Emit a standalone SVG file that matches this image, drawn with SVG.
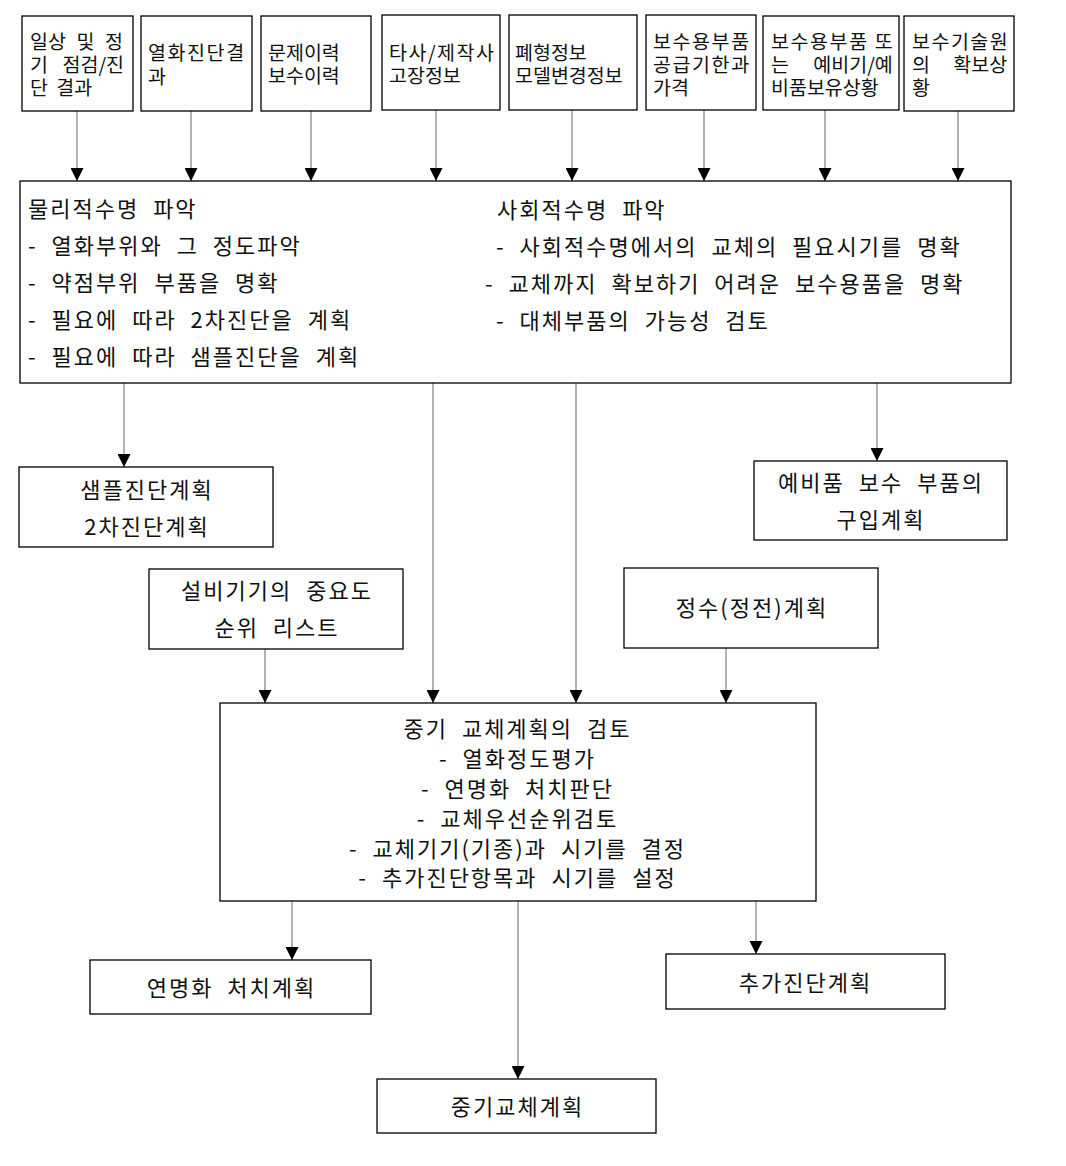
<svg xmlns="http://www.w3.org/2000/svg" width="1066" height="1166" viewBox="0 0 1066 1166">
<style>
  .box { fill: #fff; stroke: #000; stroke-width: 1.3; }
  .sm { font-family: "Noto Sans CJK KR", "Noto Sans", sans-serif; font-size: 19.5px; fill: #111; }
  .lg { font-family: "Noto Sans CJK KR", "Noto Sans", sans-serif; font-size: 22px; fill: #111; letter-spacing: 2px; word-spacing: 7px; }
  .c { text-anchor: middle; }
  .conn line { stroke: #808080; stroke-width: 1.2; marker-end: url(#arr); }
</style>
<defs>
  <marker id="arr" markerUnits="userSpaceOnUse" markerWidth="13" markerHeight="13" refX="13" refY="6.5" orient="auto">
    <path d="M0,0 L13,6.5 L0,13 z" fill="#000"/>
  </marker>
</defs>
<rect width="1066" height="1166" fill="#fff"/>

<g id="connectors" class="conn">
  <line x1="77" y1="111" x2="77" y2="181"/>
  <line x1="191" y1="111" x2="191" y2="181"/>
  <line x1="311" y1="111" x2="311" y2="181"/>
  <line x1="436" y1="110" x2="436" y2="181"/>
  <line x1="572" y1="110" x2="572" y2="181"/>
  <line x1="704" y1="110" x2="704" y2="181"/>
  <line x1="825" y1="110" x2="825" y2="181"/>
  <line x1="958" y1="111" x2="958" y2="181"/>
  <line x1="124" y1="383" x2="124" y2="467"/>
  <line x1="877" y1="383" x2="877" y2="461"/>
  <line x1="433" y1="383" x2="433" y2="703"/>
  <line x1="576" y1="383" x2="576" y2="703"/>
  <line x1="265" y1="649" x2="265" y2="703"/>
  <line x1="726" y1="648" x2="726" y2="703"/>
  <line x1="292" y1="901" x2="292" y2="960"/>
  <line x1="518" y1="901" x2="518" y2="1079"/>
  <line x1="756" y1="901" x2="756" y2="954"/>
</g>

<g id="n1">
  <rect class="box" x="22" y="16" width="111" height="95"/>
  <text class="sm"><tspan x="30" y="49" style="word-spacing:6.2px">일상 및 정</tspan><tspan x="30" y="72" style="word-spacing:10.2px">기 점검/진</tspan><tspan x="30" y="95" style="word-spacing:4px">단 결과</tspan></text>
</g>
<g id="n2">
  <rect class="box" x="141" y="16" width="111" height="95"/>
  <text class="sm"><tspan x="148" y="60" style="letter-spacing:1.6px">열화진단결</tspan><tspan x="148" y="84">과</tspan></text>
</g>
<g id="n3">
  <rect class="box" x="261" y="16" width="110" height="95"/>
  <text class="sm"><tspan x="268" y="60">문제이력</tspan><tspan x="268" y="83">보수이력</tspan></text>
</g>
<g id="n4">
  <rect class="box" x="382" y="15" width="118" height="95"/>
  <text class="sm"><tspan x="389" y="60" style="letter-spacing:1.5px">타사/제작사</tspan><tspan x="389" y="83">고장정보</tspan></text>
</g>
<g id="n5">
  <rect class="box" x="509" y="15" width="128" height="95"/>
  <text class="sm"><tspan x="515" y="60">폐형정보</tspan><tspan x="515" y="83">모델변경정보</tspan></text>
</g>
<g id="n6">
  <rect class="box" x="646" y="15" width="110" height="95"/>
  <text class="sm"><tspan x="653" y="49" style="letter-spacing:1.6px">보수용부품</tspan><tspan x="653" y="72" style="letter-spacing:1.6px">공급기한과</tspan><tspan x="653" y="95">가격</tspan></text>
</g>
<g id="n7">
  <rect class="box" x="763" y="16" width="136" height="94"/>
  <text class="sm"><tspan x="771" y="49" style="letter-spacing:1.6px">보수용부품 또</tspan><tspan x="771" y="72" style="word-spacing:20px">는 예비기/예</tspan><tspan x="771" y="95">비품보유상황</tspan></text>
</g>
<g id="n8">
  <rect class="box" x="904" y="16" width="110" height="95"/>
  <text class="sm"><tspan x="912" y="49" style="letter-spacing:1.5px">보수기술원</tspan><tspan x="912" y="72" style="word-spacing:19px">의 확보상</tspan><tspan x="912" y="95">황</tspan></text>
</g>

<g id="main">
  <rect class="box" x="20" y="181" width="991" height="202"/>
  <text class="lg" x="28" y="217">물리적수명 파악</text>
  <text class="lg" x="28" y="254">- 열화부위와 그 정도파악</text>
  <text class="lg" x="28" y="291">- 약점부위 부품을 명확</text>
  <text class="lg" x="28" y="328">- 필요에 따라 2차진단을 계획</text>
  <text class="lg" x="28" y="365">- 필요에 따라 샘플진단을 계획</text>
  <text class="lg" x="497" y="218">사회적수명 파악</text>
  <text class="lg" x="496" y="255">- 사회적수명에서의 교체의 필요시기를 명확</text>
  <text class="lg" x="485" y="292">- 교체까지 확보하기 어려운 보수용품을 명확</text>
  <text class="lg" x="496" y="329">- 대체부품의 가능성 검토</text>
</g>

<g id="sample">
  <rect class="box" x="19" y="467" width="254" height="80"/>
  <text class="lg c" x="147" y="498">샘플진단계획</text>
  <text class="lg c" x="147" y="535">2차진단계획</text>
</g>
<g id="spare">
  <rect class="box" x="754" y="461" width="253" height="79"/>
  <text class="lg c" x="881" y="491">예비품 보수 부품의</text>
  <text class="lg c" x="881" y="528">구입계획</text>
</g>
<g id="importance">
  <rect class="box" x="149" y="569" width="254" height="80"/>
  <text class="lg c" x="277" y="599">설비기기의 중요도</text>
  <text class="lg c" x="277" y="636">순위 리스트</text>
</g>
<g id="outage">
  <rect class="box" x="624" y="568" width="254" height="80"/>
  <text class="lg c" x="752" y="616">정수(정전)계획</text>
</g>

<g id="review">
  <rect class="box" x="220" y="703" width="596" height="198"/>
  <text class="lg c"><tspan x="517.5" y="737">중기 교체계획의 검토</tspan><tspan x="517.5" y="767">- 열화정도평가</tspan><tspan x="517.5" y="797">- 연명화 처치판단</tspan><tspan x="517.5" y="827">- 교체우선순위검토</tspan><tspan x="517.5" y="857">- 교체기기(기종)과 시기를 결정</tspan><tspan x="517.5" y="886">- 추가진단항목과 시기를 설정</tspan></text>
</g>

<g id="life">
  <rect class="box" x="90" y="960" width="281" height="54"/>
  <text class="lg c" x="231.5" y="996">연명화 처치계획</text>
</g>
<g id="extra">
  <rect class="box" x="666" y="954" width="279" height="55"/>
  <text class="lg c" x="805.5" y="991">추가진단계획</text>
</g>
<g id="midplan">
  <rect class="box" x="377" y="1079" width="279" height="54"/>
  <text class="lg c" x="517.5" y="1115">중기교체계획</text>
</g>
</svg>
